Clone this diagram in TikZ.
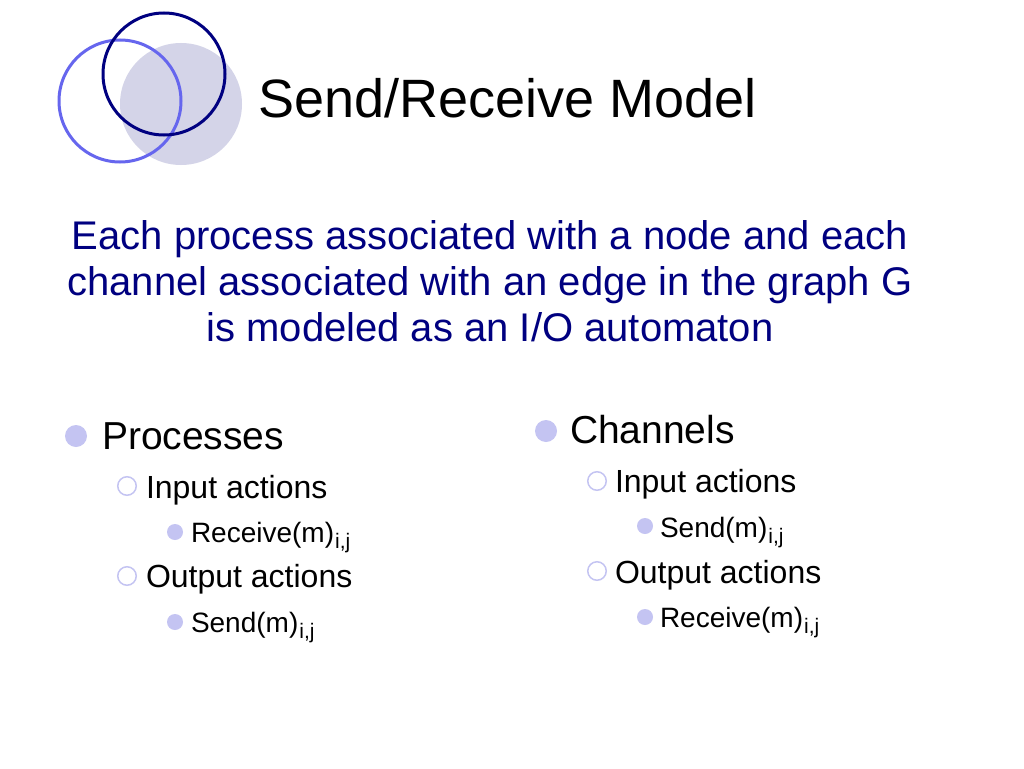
\documentclass[tikz,border=0pt]{standalone}
\usepackage{fontspec}
\setmainfont{Liberation Sans}
\usepackage{xcolor}
\definecolor{slidenavy}{HTML}{000080}
\definecolor{ringblue}{HTML}{6666EE}
\definecolor{discgrey}{HTML}{D4D4E8}
\definecolor{bulletblue}{HTML}{C4C4F2}
\newcommand{\subij}{\kern1pt\raisebox{-6pt}{\fontsize{21}{21}\selectfont i,j}}

\begin{document}
\begin{tikzpicture}[x=1pt,y=-1pt,
    every node/.style={inner sep=0,outer sep=0},
    titletext/.style={anchor=base west,font=\fontsize{54}{60}\selectfont},
    leadtext/.style={anchor=base,text=slidenavy,font=\fontsize{40}{46}\selectfont},
    lvlone/.style={anchor=base west,font=\fontsize{39}{44}\selectfont},
    lvltwo/.style={anchor=base west,font=\fontsize{32}{36}\selectfont},
    lvlthree/.style={anchor=base west,font=\fontsize{28}{32}\selectfont},
    discbullet/.style={circle,fill=bulletblue,minimum size=22pt},
    ringbullet/.style={circle,draw=bulletblue,line width=1.5pt,minimum size=18.5pt},
    dotbullet/.style={circle,fill=bulletblue,minimum size=16pt}]
    \useasboundingbox[fill=white] (0,0) rectangle (1024,768);
    % logo circles
    \fill[discgrey] (181,104) circle (61);
    \draw[ringblue,line width=3pt] (120,101) circle (61);
    \draw[slidenavy,line width=3pt] (164,74) circle (61);
    \node[titletext] (title) at (258,117) {Send/Receive Model};
    \node[leadtext] (lead1) at (490,249) {Each process associated with a node and each};
    \node[leadtext] (lead2) at (490,295) {channel associated with an edge in the graph G};
    \node[leadtext] (lead3) at (490,341) {is modeled as an I/O automaton};
    % left column
    \node[discbullet] (pbul) at (76,436) {};
    \node[lvlone] (proc) at (102,449) {Processes};
    \node[ringbullet] (pinbul) at (127,486) {};
    \node[lvltwo] (pin) at (146,498) {Input actions};
    \node[dotbullet] (precbul) at (175,532) {};
    \node[lvlthree] (prec) at (191,542) {Receive(m)\subij};
    \node[ringbullet] (poutbul) at (127,576) {};
    \node[lvltwo] (pout) at (146,587) {Output actions};
    \node[dotbullet] (psendbul) at (175,622) {};
    \node[lvlthree] (psend) at (191,632) {Send(m)\subij};
    % right column
    \node[discbullet] (cbul) at (546,431) {};
    \node[lvlone] (chan) at (570,443) {Channels};
    \node[ringbullet] (cinbul) at (597,481) {};
    \node[lvltwo] (cin) at (615,492) {Input actions};
    \node[dotbullet] (csendbul) at (645,526) {};
    \node[lvlthree] (csend) at (660,537) {Send(m)\subij};
    \node[ringbullet] (coutbul) at (597,571) {};
    \node[lvltwo] (cout) at (615,583) {Output actions};
    \node[dotbullet] (crecbul) at (645,617) {};
    \node[lvlthree] (crec) at (660,627) {Receive(m)\subij};
\end{tikzpicture}
\end{document}
